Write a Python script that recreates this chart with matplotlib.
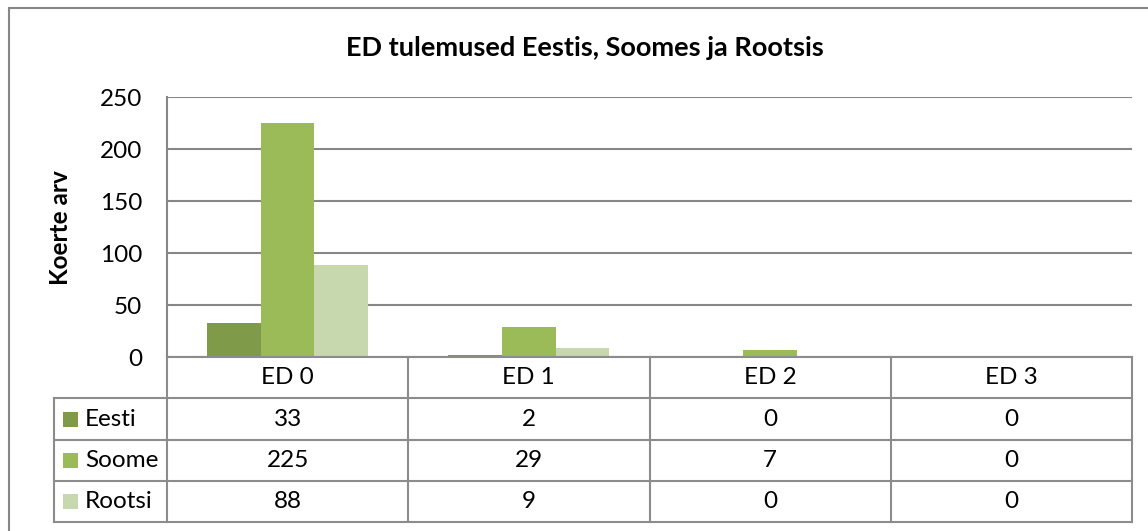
import matplotlib
matplotlib.use("Agg")
import matplotlib.pyplot as plt
import matplotlib.transforms as mtransforms
from matplotlib.patches import Rectangle
from matplotlib.lines import Line2D
import numpy as np

plt.rcParams['font.family'] = ['Lato', 'DejaVu Sans']

categories = ["ED 0", "ED 1", "ED 2", "ED 3"]
series_names = ["Eesti", "Soome", "Rootsi"]
eesti = [33, 2, 0, 0]
soome = [225, 29, 7, 0]
rootsi = [88, 9, 0, 0]
series_values = [eesti, soome, rootsi]
colors = ["#7F9A48", "#9BBB59", "#C7D7AE"]
title = "ED tulemused Eestis, Soomes ja Rootsis"
ylabel = "Koerte arv"
yticks = [0, 50, 100, 150, 200, 250]

W, H = 1148, 531
fig = plt.figure(figsize=(W / 100, H / 100), dpi=100)

def fx(x):
    return x / W

def fy(y):
    return 1 - y / H

grid_col = "#878787"
text_size = 17.5

# outer chart border
fig.patches.append(Rectangle((fx(9), fy(540)), fx(1160) - fx(9), fy(8) - fy(540),
                             transform=fig.transFigure, fill=False,
                             edgecolor="#868686", lw=1.5))

left, right, top, zero = 167, 1132, 97, 357
ax = fig.add_axes([fx(left), fy(zero), fx(right) - fx(left), fy(top) - fy(zero)])

n = len(categories)
x = np.arange(n)
bw = 1 / 4.5
for k, (vals, c) in enumerate(zip(series_values, colors)):
    ax.bar(x + (k - 1) * bw, vals, width=bw, color=c, zorder=3, linewidth=0)

ax.set_xlim(-0.5, n - 0.5)
ax.set_ylim(0, 250)
ax.set_yticks(yticks)
ax.set_yticklabels([str(t) for t in yticks], fontsize=text_size)
ax.tick_params(axis='y', length=0, pad=18)
ax.set_xticks([])
ax.grid(axis='y', color=grid_col, lw=1.5, zorder=0)
for s in ["top", "right", "bottom"]:
    ax.spines[s].set_visible(False)
ax.spines["left"].set_color(grid_col)
ax.spines["left"].set_linewidth(1.5)

fig.text(fx(61), fy(228), ylabel, rotation=90, ha='center', va='center',
         fontsize=text_size, fontweight='bold')
fig.text(fx(585), fy(48), title, ha='center', va='center',
         fontsize=19.5, fontweight='bold')

# data table
rows_y = [357, 398, 440, 481, 522]
col_x = [left] + [left + (right - left) * (i + 1) / n for i in range(n)]
lines = []
lines.append(((left, right), (357, 357)))
for yy in rows_y[1:]:
    lines.append(((54, right), (yy, yy)))
lines.append(((54, 54), (398, 522)))
for xx in col_x:
    lines.append(((xx, xx), (357, 522)))
for (xs, ys) in lines:
    fig.lines.append(Line2D([fx(v) for v in xs], [fy(v) for v in ys],
                            transform=fig.transFigure, color="#8C8C8C", lw=1.5))

blend = mtransforms.blended_transform_factory(ax.transData, fig.transFigure)
for i, cat in enumerate(categories):
    fig.text(i, fy((rows_y[0] + rows_y[1]) / 2), cat, transform=blend,
             ha='center', va='center', fontsize=text_size)
for r, (name, vals, c) in enumerate(zip(series_names, series_values, colors)):
    yc = (rows_y[r + 1] + rows_y[r + 2]) / 2
    for i, v in enumerate(vals):
        fig.text(i, fy(yc), str(v), transform=blend, ha='center', va='center',
                 fontsize=text_size)
    fig.patches.append(Rectangle((fx(63), fy(yc + 7.5)), fx(15), fy(0) - fy(15),
                                 transform=fig.transFigure, color=c, lw=0))
    fig.text(fx(85), fy(yc), name, ha='left', va='center', fontsize=text_size)

fig.savefig("out.png", dpi=100)
